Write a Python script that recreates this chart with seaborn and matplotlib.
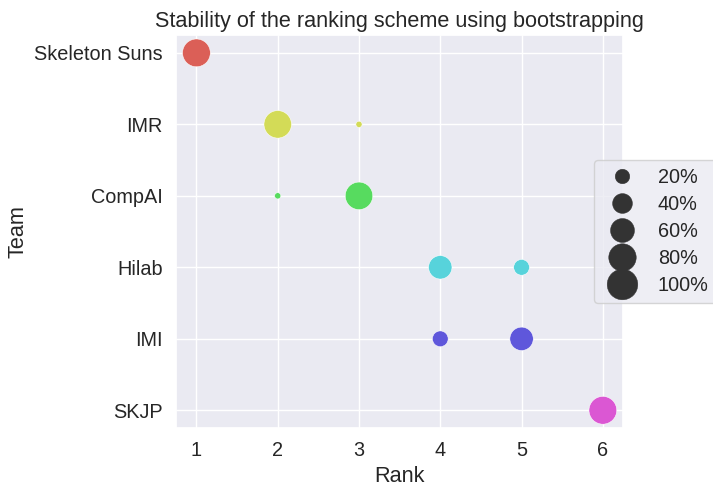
import numpy as np
import pandas as pd
import matplotlib.pyplot as plt
import seaborn as sns

sns.set_theme(style="darkgrid", font_scale=1.3)
plt.rcParams["font.family"] = ["Liberation Sans", "DejaVu Sans"]

teams = ["Skeleton Suns", "IMR", "CompAI", "Hilab", "IMI", "SKJP"]
# (team, rank, share of bootstrap samples)
rows_team = ["Skeleton Suns", "IMR", "IMR", "CompAI", "CompAI", "Hilab", "Hilab", "IMI", "IMI", "SKJP"]
rows_rank = [1, 2, 3, 2, 3, 4, 5, 4, 5, 6]
rows_freq = [1.0, 0.98, 0.02, 0.02, 0.98, 0.7, 0.3, 0.3, 0.7, 1.0]

df = pd.DataFrame({"Team": rows_team, "Rank": rows_rank, "Freq": rows_freq})

fig = plt.figure(figsize=(7.13, 4.86), dpi=100)
ax = fig.add_axes([0.247, 0.119, 0.627, 0.809])

sns.scatterplot(
    data=df,
    x="Rank",
    y="Team",
    hue="Team",
    hue_order=teams,
    size="Freq",
    sizes=(20, 400),
    palette="hls",
    edgecolor="white",
    ax=ax,
    legend="brief",
)

ax.set_yticks(range(len(teams)))
ax.set_yticklabels(teams)
ax.set_ylim(len(teams) - 0.75, -0.25)
ax.set_xticks([1, 2, 3, 4, 5, 6])
ax.set_title("Stability of the ranking scheme using bootstrapping")

# keep only the size entries in the legend
handles, labels = ax.get_legend_handles_labels()
size_levels = [0.2, 0.4, 0.6, 0.8, 1.0]
keep_h, keep_l = [], []
for h, l in zip(handles, labels):
    try:
        v = float(l)
    except ValueError:
        continue
    if any(abs(v - s) < 1e-6 for s in size_levels):
        h.set_color("#333333")
        h.set_markeredgecolor("#333333")
        keep_h.append(h)
        keep_l.append(f"{int(round(v * 100))}%")
ax.legend(
    keep_h,
    keep_l,
    loc="upper left",
    bbox_to_anchor=(0.935, 0.682),
    borderaxespad=0,
    markerscale=1.1,
    labelspacing=0.4,
    frameon=True,
)

fig.savefig("out.png", dpi=100)
